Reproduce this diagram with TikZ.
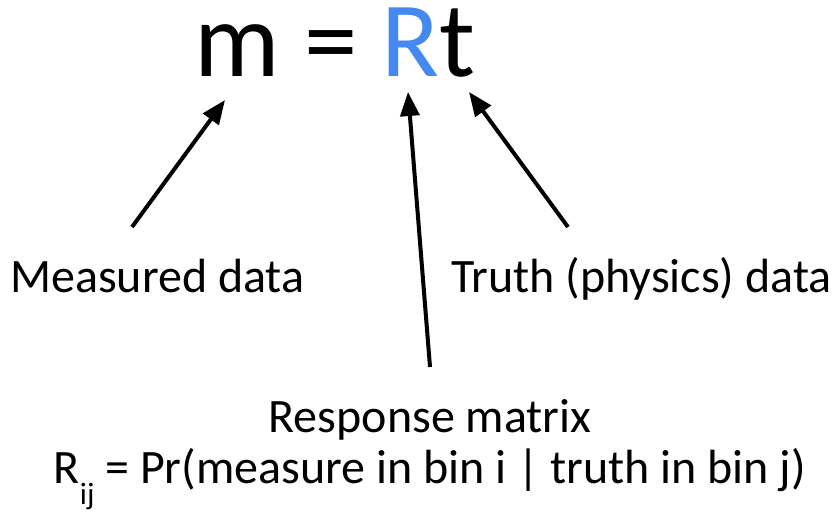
\documentclass[tikz,border=0pt]{standalone}
\usepackage{fontspec}
\setmainfont{Carlito}
\usetikzlibrary{arrows.meta}
\definecolor{rblue}{RGB}{68,136,240}
\begin{document}
\begin{tikzpicture}[x=1pt,y=-1pt,
  lbl/.style={inner sep=0pt,font=\fontsize{48}{56}\selectfont},
  arr/.style={line width=4pt,-{Triangle[length=24pt,width=19pt]}}]
\useasboundingbox (0,0) rectangle (832,515);
\node[inner sep=0pt,anchor=base,font=\fontsize{107}{120}\selectfont] (eq) at (335,76) {m = {\color{rblue}R}t};
\node[lbl,anchor=base west] (meas) at (10,292) {Measured data};
\node[lbl,anchor=base west] (truth) at (451,292) {Truth (physics) data};
\node[lbl,anchor=base] (resp) at (430,432) {Response matrix};
\node[lbl,anchor=base] (rij) at (430,483) {R\raisebox{-21pt}{\fontsize{31}{31}\selectfont ij} = Pr(measure in bin i | truth in bin j)};
\coordinate (mtip) at (225,100);
\coordinate (mtail) at (132,227);
\coordinate (rtip) at (408,92);
\coordinate (rtail) at (430,367);
\coordinate (ttip) at (469,92);
\coordinate (ttail) at (568,227);
\draw[arr] (mtail) -- (mtip);
\draw[arr] (rtail) -- (rtip);
\draw[arr] (ttail) -- (ttip);
\end{tikzpicture}
\end{document}
